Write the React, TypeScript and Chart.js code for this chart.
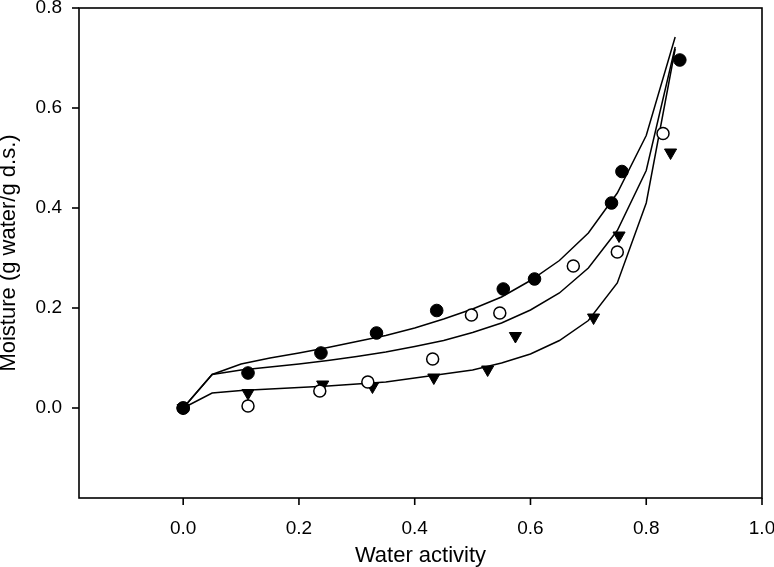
import React, { useEffect, useRef } from "react";
import { Chart, registerables } from "chart.js";

Chart.register(...registerables);

// Measured data (water activity vs moisture)
const filledAw = [0, 0.112, 0.238, 0.334, 0.438, 0.553, 0.607, 0.74, 0.758, 0.858];
const filledM = [0, 0.07, 0.11, 0.15, 0.195, 0.238, 0.258, 0.41, 0.473, 0.696];
const openAw = [0, 0.112, 0.236, 0.319, 0.431, 0.498, 0.547, 0.674, 0.75, 0.829];
const openM = [0, 0.004, 0.034, 0.052, 0.098, 0.186, 0.19, 0.284, 0.312, 0.549];
const triAw = [0, 0.112, 0.241, 0.327, 0.433, 0.526, 0.574, 0.709, 0.753, 0.842];
const triM = [0, 0.03, 0.047, 0.043, 0.061, 0.077, 0.144, 0.181, 0.345, 0.511];

// Fitted curves
const fitAw = [0, 0.05, 0.1, 0.15, 0.2, 0.25, 0.3, 0.35, 0.4, 0.45, 0.5, 0.55, 0.6, 0.65, 0.7, 0.75, 0.8, 0.85];
const fitTop = [0, 0.067, 0.088, 0.1, 0.11, 0.121, 0.133, 0.145, 0.16, 0.178, 0.198, 0.222, 0.255, 0.295, 0.35, 0.43, 0.545, 0.742];
const fitMid = [0, 0.067, 0.076, 0.082, 0.088, 0.095, 0.103, 0.112, 0.123, 0.135, 0.151, 0.17, 0.196, 0.23, 0.28, 0.355, 0.475, 0.722];
const fitLow = [0, 0.03, 0.035, 0.038, 0.041, 0.044, 0.048, 0.052, 0.06, 0.068, 0.076, 0.09, 0.108, 0.135, 0.175, 0.25, 0.41, 0.718];

const xTicks = [0, 0.2, 0.4, 0.6, 0.8, 1.0];
const yTicks = [0, 0.2, 0.4, 0.6, 0.8];

const xTitle = "Water activity";
const yTitle = "Moisture (g water/g d.s.)";

const pts = (xs: number[], ys: number[]) => xs.map((x, i) => ({ x, y: ys[i] }));

const FONT = "'Liberation Sans', Arial, sans-serif";
const TICK_LEN = 7;

const framePlugin = {
  id: "frame",
  afterDraw(chart: any) {
    const { ctx, chartArea, scales } = chart;
    const xs = scales.x;
    const ys = scales.y;
    ctx.save();
    ctx.strokeStyle = "#000";
    ctx.lineWidth = 1.6;
    ctx.strokeRect(chartArea.left, chartArea.top, chartArea.right - chartArea.left, chartArea.bottom - chartArea.top);
    for (let i = 0; i < xTicks.length; i++) {
      const px = xs.getPixelForValue(xTicks[i]);
      ctx.beginPath();
      ctx.moveTo(px, chartArea.bottom);
      ctx.lineTo(px, chartArea.bottom + TICK_LEN);
      ctx.stroke();
    }
    for (let i = 0; i < yTicks.length; i++) {
      const py = ys.getPixelForValue(yTicks[i]);
      ctx.beginPath();
      ctx.moveTo(chartArea.left, py);
      ctx.lineTo(chartArea.left - TICK_LEN, py);
      ctx.stroke();
    }
    ctx.restore();
  },
};

export default function App() {
  const ref = useRef<HTMLCanvasElement>(null);

  useEffect(() => {
    if (!ref.current) return;
    const lineDs = (data: number[]) => ({
      type: "line" as const,
      data: pts(fitAw, data),
      borderColor: "#000",
      borderWidth: 1.5,
      pointRadius: 0,
      fill: false,
      tension: 0,
    });
    const chart = new Chart(ref.current, {
      type: "scatter",
      data: {
        datasets: [
          {
            data: pts(filledAw, filledM),
            pointStyle: "circle",
            pointRadius: 6.3,
            backgroundColor: "#000",
            borderColor: "#000",
            borderWidth: 1,
          },
          {
            data: pts(openAw, openM),
            pointStyle: "circle",
            pointRadius: 6,
            backgroundColor: "#fff",
            borderColor: "#000",
            borderWidth: 1.5,
          },
          {
            data: pts(triAw, triM),
            pointStyle: "triangle",
            rotation: 180,
            pointRadius: 7,
            backgroundColor: "#000",
            borderColor: "#000",
            borderWidth: 1,
          },
          lineDs(fitTop) as any,
          lineDs(fitMid) as any,
          lineDs(fitLow) as any,
        ],
      },
      options: {
        animation: false,
        responsive: false,
        maintainAspectRatio: false,
        layout: { padding: { left: 0, top: 8, right: 12, bottom: 0 } },
        plugins: { legend: { display: false }, tooltip: { enabled: false } },
        scales: {
          x: {
            type: "linear",
            min: -0.18,
            max: 1.0,
            afterBuildTicks: (s: any) => {
              s.ticks = xTicks.map((v) => ({ value: v }));
            },
            afterFit: (s: any) => {
              s.height = 69;
              s.paddingLeft = 0;
              s.paddingRight = 0;
            },
            border: { display: false },
            grid: { display: true, drawOnChartArea: false, drawTicks: true, tickLength: TICK_LEN, color: "rgba(0,0,0,0)" },
            ticks: {
              color: "#000",
              font: { family: FONT, size: 19 },
              padding: 12,
              maxRotation: 0,
              callback: (v: any) => Number(v).toFixed(1),
            },
            title: {
              display: true,
              text: xTitle,
              color: "#000",
              font: { family: FONT, size: 22 },
              padding: { top: 0, bottom: -2 },
            },
          },
          y: {
            type: "linear",
            min: -0.18,
            max: 0.8,
            afterBuildTicks: (s: any) => {
              s.ticks = yTicks.map((v) => ({ value: v }));
            },
            afterFit: (s: any) => {
              s.width = 79;
              s.paddingTop = 0;
              s.paddingBottom = 0;
            },
            border: { display: false },
            grid: { display: true, drawOnChartArea: false, drawTicks: true, tickLength: TICK_LEN, color: "rgba(0,0,0,0)" },
            ticks: {
              color: "#000",
              font: { family: FONT, size: 19 },
              padding: 10,
              callback: (v: any) => Number(v).toFixed(1),
            },
            title: {
              display: true,
              text: yTitle,
              color: "#000",
              font: { family: FONT, size: 22 },
              padding: { top: -4, bottom: 0 },
            },
          },
        },
      },
      plugins: [framePlugin],
    });
    return () => chart.destroy();
  }, []);

  return (
    <div style={{ position: "absolute", left: 0, top: 0, width: 774, height: 567, background: "#fff" }}>
      <canvas ref={ref} width={774} height={567} style={{ width: 774, height: 567 }} />
    </div>
  );
}
